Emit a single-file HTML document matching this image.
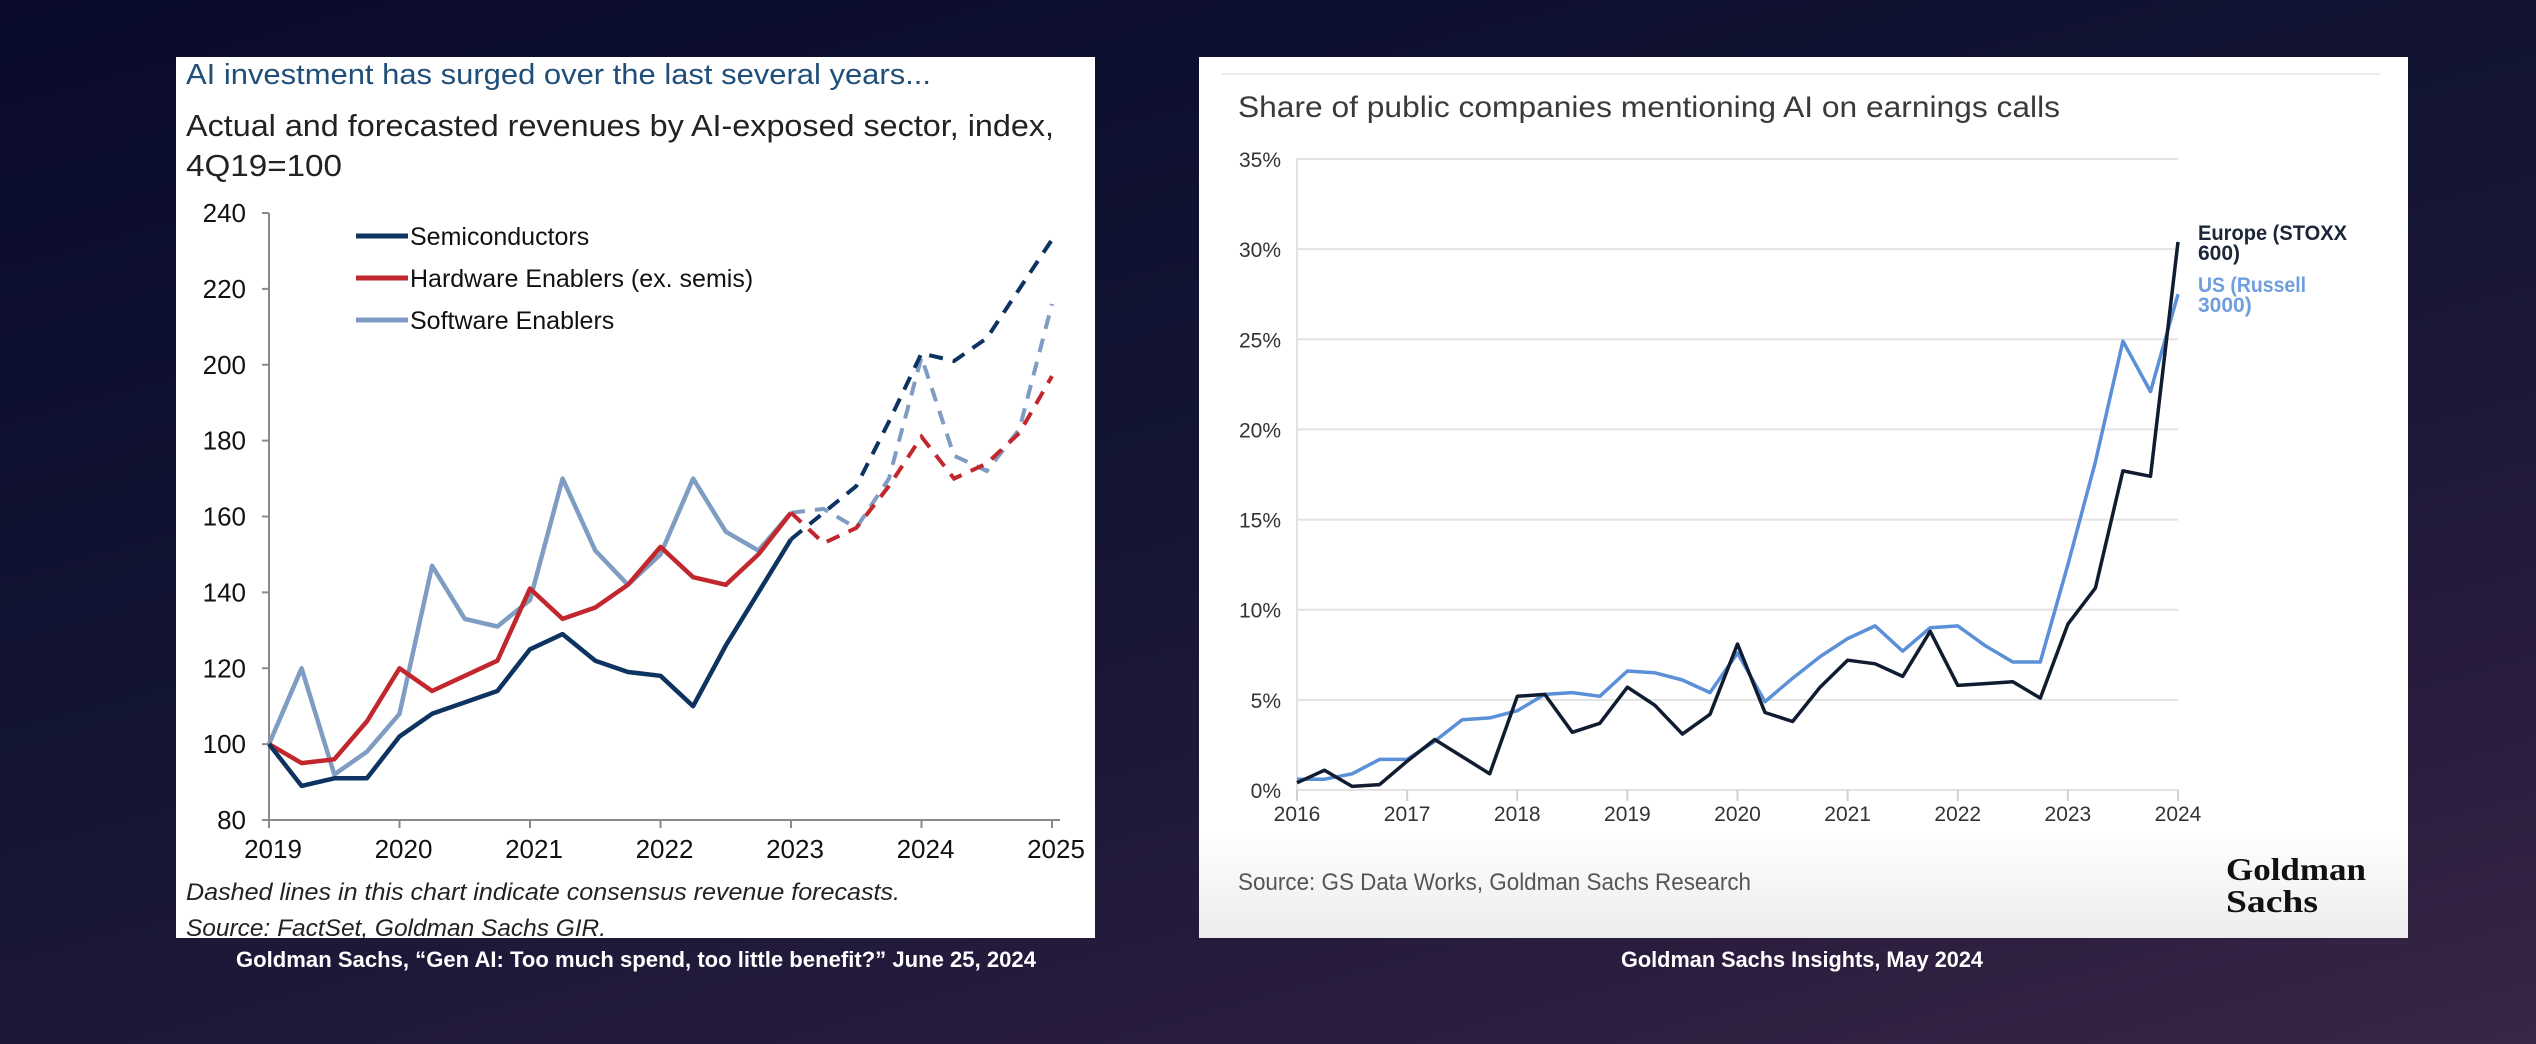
<!DOCTYPE html>
<html><head><meta charset="utf-8">
<style>
html,body{margin:0;padding:0;}
body{width:2536px;height:1044px;overflow:hidden;background:linear-gradient(165deg,#0a0b2c 0%,#131533 45%,#2a1c3e 80%,#3a2645 100%);font-family:"Liberation Sans",sans-serif;}
svg{position:absolute;left:0;top:0;}
</style></head>
<body>
<svg id="page" width="2536" height="1044" viewBox="0 0 2536 1044" xmlns="http://www.w3.org/2000/svg">
<defs>
<linearGradient id="rg" x1="0" y1="0" x2="0" y2="1">
<stop offset="0" stop-color="#ffffff"/><stop offset="0.88" stop-color="#ffffff"/><stop offset="1" stop-color="#ececee"/>
</linearGradient>
</defs>
<!-- Left panel -->
<g id="left-panel">
<rect x="176" y="57" width="919" height="881" fill="#ffffff"/>
<text x="186" y="84" font-size="29" fill="#1f4e79" textLength="745" lengthAdjust="spacingAndGlyphs">AI investment has surged over the last several years...</text>
<text x="186" y="136" font-size="31" fill="#222" textLength="868" lengthAdjust="spacingAndGlyphs">Actual and forecasted revenues by AI-exposed sector, index,</text>
<text x="186" y="176" font-size="31" fill="#222" textLength="156" lengthAdjust="spacingAndGlyphs">4Q19=100</text>
<g id="left-axes"></g>
<g id="left-series"></g>
<g id="left-legend"></g>
<text x="186" y="900" font-size="24" font-style="italic" fill="#222" textLength="714" lengthAdjust="spacingAndGlyphs">Dashed lines in this chart indicate consensus revenue forecasts.</text>
<text x="186" y="936" font-size="24" font-style="italic" fill="#222" textLength="420" lengthAdjust="spacingAndGlyphs">Source: FactSet, Goldman Sachs GIR.</text>
</g>
<text x="636" y="967" font-size="22" font-weight="bold" fill="#ffffff" text-anchor="middle" textLength="800" lengthAdjust="spacingAndGlyphs">Goldman Sachs, “Gen AI: Too much spend, too little benefit?” June 25, 2024</text>

<!-- Right panel -->
<g id="right-panel">
<rect x="1199" y="57" width="1209" height="881" fill="url(#rg)"/>
<line x1="1222" y1="74" x2="2380" y2="74" stroke="#ececec" stroke-width="2"/>
<text x="1238" y="117" font-size="30" fill="#3a3a3a" textLength="822" lengthAdjust="spacingAndGlyphs">Share of public companies mentioning AI on earnings calls</text>
<g id="right-axes"></g>
<g id="right-series"></g>
<text x="2198" y="240" font-size="21" font-weight="bold" fill="#1c2638" textLength="149" lengthAdjust="spacingAndGlyphs">Europe (STOXX</text>
<text x="2198" y="260" font-size="21" font-weight="bold" fill="#1c2638">600)</text>
<text x="2198" y="292" font-size="21" font-weight="bold" fill="#6f9ede" textLength="108" lengthAdjust="spacingAndGlyphs">US (Russell</text>
<text x="2198" y="312" font-size="21" font-weight="bold" fill="#6f9ede">3000)</text>
<text x="1238" y="890" font-size="24" fill="#555" textLength="513" lengthAdjust="spacingAndGlyphs">Source: GS Data Works, Goldman Sachs Research</text>
<text x="2226" y="880" font-size="32" font-weight="bold" font-family="Liberation Serif, serif" fill="#111" textLength="140" lengthAdjust="spacingAndGlyphs">Goldman</text>
<text x="2226" y="912" font-size="32" font-weight="bold" font-family="Liberation Serif, serif" fill="#111" textLength="92" lengthAdjust="spacingAndGlyphs">Sachs</text>
</g>
<text x="1802" y="967" font-size="22" font-weight="bold" fill="#ffffff" text-anchor="middle" textLength="362" lengthAdjust="spacingAndGlyphs">Goldman Sachs Insights, May 2024</text>
</svg>
<script>
// ---------- Left chart data ----------
const leftYTicks = [80, 100, 120, 140, 160, 180, 200, 220, 240];
const leftXTicks = [2019, 2020, 2021, 2022, 2023, 2024, 2025];
const leftStart = 2019;
const leftActualCount = 17;
const semiconductors = [100, 89, 91, 91, 102, 108, 111, 114, 125, 129, 122, 119, 118, 110, 126, 140, 154, 161, 168, 185, 203, 201, 207, 220, 233];
const hardwareEnablers = [100, 95, 96, 106, 120, 114, 118, 122, 141, 133, 136, 142, 152, 144, 142, 150, 161, 153, 157, 168, 181, 170, 174, 182, 197];
const softwareEnablers = [100, 120, 92, 98, 108, 147, 133, 131, 138, 170, 151, 142, 150, 170, 156, 151, 161, 162, 157, 170, 202, 176, 172, 183, 216];
const leftSeriesNames = ["Semiconductors", "Hardware Enablers (ex. semis)", "Software Enablers"];

// ---------- Right chart data ----------
const rightYTicks = [0, 5, 10, 15, 20, 25, 30, 35];
const rightXTicks = [2016, 2017, 2018, 2019, 2020, 2021, 2022, 2023, 2024];
const rightStart = 2016;
const europe = [0.4, 1.1, 0.2, 0.3, 1.6, 2.8, 1.85, 0.9, 5.2, 5.3, 3.2, 3.7, 5.7, 4.7, 3.1, 4.2, 8.1, 4.3, 3.8, 5.7, 7.2, 7.0, 6.3, 8.8, 5.8, 5.9, 6.0, 5.1, 9.2, 11.2, 17.7, 17.4, 30.4];
const us = [0.6, 0.6, 0.9, 1.7, 1.7, 2.7, 3.9, 4.0, 4.4, 5.3, 5.4, 5.2, 6.6, 6.5, 6.1, 5.4, 7.6, 4.9, 6.2, 7.4, 8.4, 9.1, 7.7, 9.0, 9.1, 8.0, 7.1, 7.1, 12.5, 18.2, 24.9, 22.1, 27.5];

const NS = "http://www.w3.org/2000/svg";
function mk(tag, attrs, parent) {
  const e = document.createElementNS(NS, tag);
  for (const k in attrs) e.setAttribute(k, attrs[k]);
  parent.appendChild(e);
  return e;
}

// Left axes functions
const lx = v => 269 + (v - 2019) * (1052 - 269) / 6;
const ly = v => 820 - (v - 80) * (820 - 213) / 160;
const lAxes = document.getElementById('left-axes');
let ax = mk('line', {x1: 269, y1: 213, x2: 269, y2: 820, stroke: '#8a8a8a', 'stroke-width': 2}, lAxes);


ax = mk('line', {x1: 269, y1: 820, x2: 1060, y2: 820, stroke: '#8a8a8a', 'stroke-width': 2}, lAxes);


leftYTicks.forEach(t => {
  const tk = mk('line', {x1: 262, y1: ly(t), x2: 269, y2: ly(t), stroke: '#8a8a8a', 'stroke-width': 2}, lAxes);
  
  
  const tx = mk('text', {x: 246, y: ly(t) + 9, 'font-size': 26, 'text-anchor': 'end', fill: '#111'}, lAxes);
  tx.textContent = t;
  
  
});
leftXTicks.forEach(t => {
  const tk = mk('line', {x1: lx(t), y1: 820, x2: lx(t), y2: 828, stroke: '#8a8a8a', 'stroke-width': 2}, lAxes);
  
  
  const tx = mk('text', {x: lx(t) + 4, y: 858, 'font-size': 26, 'text-anchor': 'middle', fill: '#111'}, lAxes);
  tx.textContent = t;
  
  
});
const lSeries = document.getElementById('left-series');
const leftColors = ['#0d3461', '#c1272d', '#7f9cc2'];
const leftData = [semiconductors, hardwareEnablers, softwareEnablers];
const leftKeys = ['semiconductors', 'hardware-enablers', 'software-enablers'];
function ptsStr(arr, from, to, fx, fy, start) {
  const p = [];
  for (let i = from; i <= to; i++) p.push(fx(start + i * 0.25).toFixed(1) + ',' + fy(arr[i]).toFixed(1));
  return p.join(' ');
}
[2, 1, 0].forEach(k => {
  const arr = leftData[k];
  const a = mk('polyline', {points: ptsStr(arr, 0, leftActualCount - 1, lx, ly, leftStart), fill: 'none', stroke: leftColors[k], 'stroke-width': 4.5, 'stroke-linejoin': 'round'}, lSeries);
  
  
  const f = mk('polyline', {points: ptsStr(arr, leftActualCount - 1, arr.length - 1, lx, ly, leftStart), fill: 'none', stroke: leftColors[k], 'stroke-width': 4, 'stroke-dasharray': '14 10'}, lSeries);
  
  
});
const lLeg = document.getElementById('left-legend');
leftSeriesNames.forEach((n, i) => {
  const y = 236 + i * 42;
  const ln = mk('line', {x1: 356, y1: y, x2: 408, y2: y, stroke: leftColors[i], 'stroke-width': 5}, lLeg);
  
  
  const tx = mk('text', {x: 410, y: y + 9, 'font-size': 25, fill: '#111'}, lLeg);
  tx.textContent = n;
  
  
});

// Right axes functions
const rx = v => 1297 + (v - 2016) * (2178 - 1297) / 8;
const ry = v => 790 - v * (790 - 159) / 35;
const rAxes = document.getElementById('right-axes');
rightYTicks.forEach(t => {
  const g = mk('line', {x1: 1297, y1: ry(t), x2: 2178, y2: ry(t), stroke: '#e2e2e2', 'stroke-width': 2}, rAxes);
  
  
  const tx = mk('text', {x: 1281, y: ry(t) + 8, 'font-size': 21, 'text-anchor': 'end', fill: '#333'}, rAxes);
  tx.textContent = t + '%';
  
  
});
ax = mk('line', {x1: 1297, y1: 159, x2: 1297, y2: 800, stroke: '#e2e2e2', 'stroke-width': 2}, rAxes);


rightXTicks.forEach(t => {
  const tk = mk('line', {x1: rx(t), y1: 790, x2: rx(t), y2: 801, stroke: '#d0d0d0', 'stroke-width': 2}, rAxes);
  
  
  const tx = mk('text', {x: rx(t), y: 821, 'font-size': 21, 'text-anchor': 'middle', fill: '#333'}, rAxes);
  tx.textContent = t;
  
  
});
const rSeries = document.getElementById('right-series');
const usLine = mk('polyline', {points: ptsStr(us, 0, us.length - 1, rx, ry, rightStart), fill: 'none', stroke: '#5b8fd8', 'stroke-width': 3.5, 'stroke-linejoin': 'round'}, rSeries);


const euLine = mk('polyline', {points: ptsStr(europe, 0, europe.length - 1, rx, ry, rightStart), fill: 'none', stroke: '#101c30', 'stroke-width': 3.5, 'stroke-linejoin': 'round'}, rSeries);


</script>
</body></html>
